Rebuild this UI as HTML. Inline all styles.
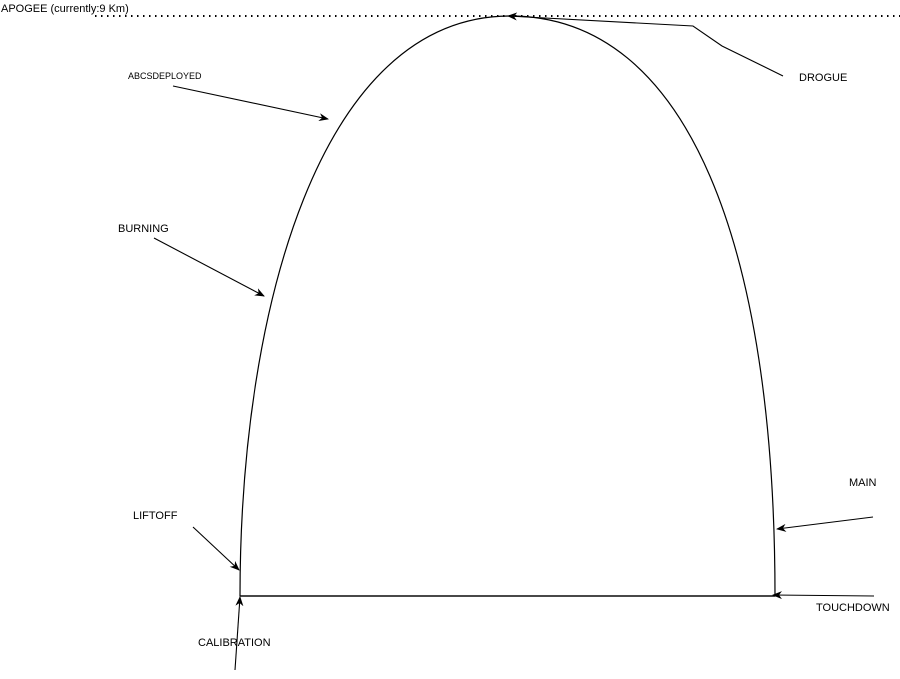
<!DOCTYPE html>
<html><head><meta charset="utf-8"><style>
html,body{margin:0;padding:0;background:#fff;}
svg{display:block;font-family:"Liberation Sans",sans-serif;}
</style></head><body>
<svg width="900" height="679" viewBox="0 0 900 679">
<defs><marker id="ah" markerWidth="10" markerHeight="8" refX="9" refY="4" orient="auto" markerUnits="userSpaceOnUse"><path d="M0,0 L10,4 L0,8 L3,4 Z" fill="#000"/></marker></defs>
<line x1="95" y1="16" x2="900" y2="16" stroke="#000" stroke-width="2" stroke-dasharray="1.5,4.5"/>
<text x="1" y="12" font-size="11">APOGEE (currently:9 Km)</text>
<path d="M240,596 C240,310 320,16 510,16 C690,16 775,250 775,596 Z" fill="none" stroke="#000" stroke-width="1.2"/>
<line x1="240" y1="596" x2="775" y2="596" stroke="#000" stroke-width="1.2"/>
<g stroke="#000" stroke-width="1.1" fill="none">
<line x1="173" y1="86" x2="328" y2="119" marker-end="url(#ah)"/>
<line x1="154" y1="238" x2="264" y2="296" marker-end="url(#ah)"/>
<line x1="193" y1="527" x2="239" y2="570" marker-end="url(#ah)"/>
<line x1="235" y1="670" x2="240" y2="597" marker-end="url(#ah)"/>
<line x1="873" y1="517" x2="777" y2="529" marker-end="url(#ah)"/>
<line x1="874" y1="596" x2="773" y2="595" marker-end="url(#ah)"/>
<polyline points="783,76 722,46 693,26 508,16" marker-end="url(#ah)"/>
</g>
<g font-size="11" fill="#000">
<text x="128" y="79" font-size="9">ABCSDEPLOYED</text>
<text x="118" y="232">BURNING</text>
<text x="133" y="519">LIFTOFF</text>
<text x="198" y="646">CALIBRATION</text>
<text x="799" y="81">DROGUE</text>
<text x="849" y="486">MAIN</text>
<text x="816" y="611">TOUCHDOWN</text>
</g>
</svg>
</body></html>
